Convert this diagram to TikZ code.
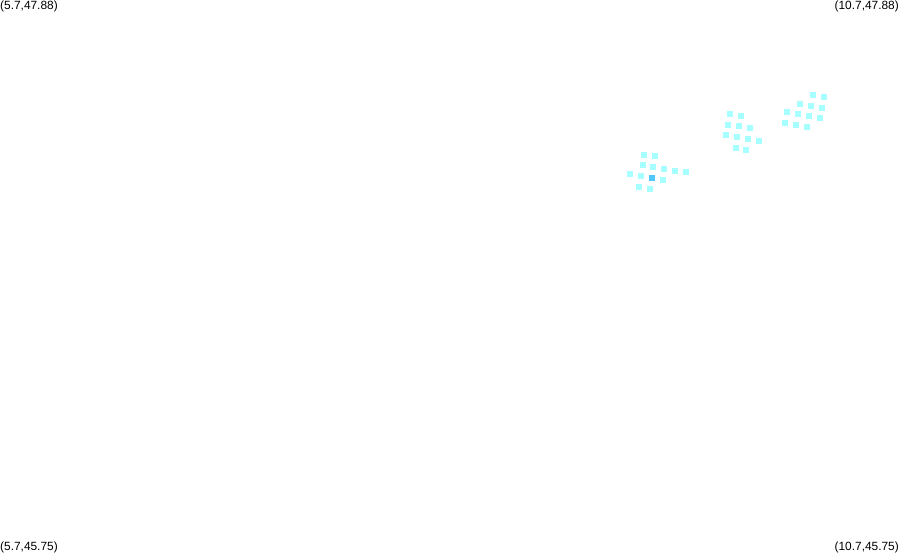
\documentclass[tikz,border=0pt]{standalone}
\usepackage{fontspec}
\setmainfont{Liberation Sans}
\usepackage{xcolor}
\definecolor{lightcell}{HTML}{A8FFFF}
\definecolor{darkcell}{HTML}{50C8FF}
\tikzset{
cell/.style={fill=lightcell, draw=none, minimum size=6pt, inner sep=0pt, rectangle},
corner/.style={inner sep=0pt, font=\fontsize{11.9pt}{12pt}\selectfont}
}
\begin{document}
\begin{tikzpicture}[x=1pt,y=-1pt]
\useasboundingbox (0,0) rectangle (899,552);
%
\node[corner,anchor=west] (nw) at (0,6.4) {(5.7,47.88)};
\node[corner,anchor=east] (ne) at (899,6.4) {(10.7,47.88)};
\node[corner,anchor=west] (sw) at (0,547.8) {(5.7,45.75)};
\node[corner,anchor=east] (se) at (899,547.8) {(10.7,45.75)};
%
\foreach \x/\y in {644/155,655/156,643/165,653/167,664/169,675/171,686/172,
630/174,641/176,663/180,639/187,650/189}
\node[cell] at (\x,\y) {};
\node[cell,fill=darkcell] (peak) at (652,178) {};
%
\foreach \x/\y in {730/114,741/116,728/125,739/126,750/128,726/135,737/137,
748/139,759/141,736/148,746/150}
\node[cell] at (\x,\y) {};
%
\foreach \x/\y in {813/95,824/97,800/104,811/106,822/108,787/112,798/114,
809/116,820/118,785/123,796/125,807/127}
\node[cell] at (\x,\y) {};
\end{tikzpicture}
\end{document}
